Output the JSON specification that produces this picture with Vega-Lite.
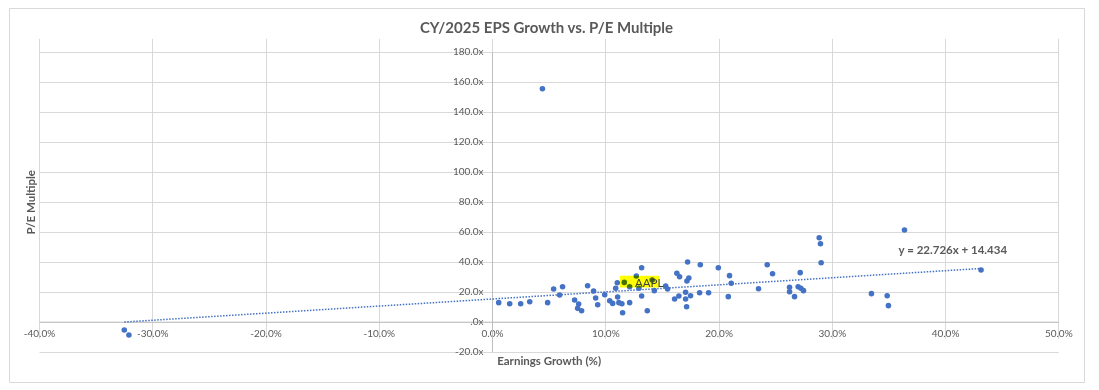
{
  "$schema": "https://vega.github.io/schema/vega-lite/v6.json",
  "width": 1075,
  "height": 374,
  "autosize": "none",
  "padding": {"left": 9, "top": 8, "right": 15, "bottom": 8},
  "background": "white",
  "config": {
    "view": {"stroke": "#d9d9d9", "strokeWidth": 1},
    "font": "Lato"
  },
  "title": {
    "text": "CY/2025 EPS Growth vs. P/E Multiple",
    "font": "Lato",
    "fontSize": 15,
    "fontWeight": "bold",
    "color": "#595959",
    "anchor": "middle",
    "frame": "group",
    "baseline": "alphabetic",
    "offset": -25.3,
    "dy": 14.3
  },
  "datasets": {
    "pts": [
      {"g": 0.0059, "pe": 12.7}, {"g": 0.0156, "pe": 12.0}, {"g": 0.0253, "pe": 12.0}, {"g": 0.0333, "pe": 13.3},
      {"g": 0.0491, "pe": 12.7}, {"g": 0.0544, "pe": 21.8}, {"g": 0.0597, "pe": 17.8}, {"g": 0.0623, "pe": 23.3},
      {"g": 0.0729, "pe": 14.5}, {"g": 0.0765, "pe": 11.8}, {"g": 0.0756, "pe": 8.9}, {"g": 0.0791, "pe": 7.3},
      {"g": 0.0844, "pe": 24.0}, {"g": 0.0897, "pe": 20.5}, {"g": 0.0915, "pe": 15.8}, {"g": 0.0933, "pe": 11.3},
      {"g": 0.0995, "pe": 18.0}, {"g": 0.1039, "pe": 14.0}, {"g": 0.1065, "pe": 12.2}, {"g": 0.1092, "pe": 22.3},
      {"g": 0.1106, "pe": 26.0}, {"g": 0.1109, "pe": 16.5}, {"g": 0.1120, "pe": 12.7}, {"g": 0.1147, "pe": 12.0},
      {"g": 0.1153, "pe": 6.0}, {"g": 0.1168, "pe": 26.2, "label": "AAPL"}, {"g": 0.1215, "pe": 23.3}, {"g": 0.1215, "pe": 12.7},
      {"g": 0.1274, "pe": 30.5}, {"g": 0.1297, "pe": 22.3}, {"g": 0.1321, "pe": 36.0}, {"g": 0.1321, "pe": 17.1},
      {"g": 0.1371, "pe": 7.3}, {"g": 0.1414, "pe": 27.8}, {"g": 0.1433, "pe": 20.7}, {"g": 0.1533, "pe": 23.8},
      {"g": 0.1550, "pe": 21.8}, {"g": 0.1612, "pe": 15.1}, {"g": 0.1632, "pe": 32.3}, {"g": 0.1650, "pe": 17.1},
      {"g": 0.1656, "pe": 30.0}, {"g": 0.1709, "pe": 19.6}, {"g": 0.1709, "pe": 15.1}, {"g": 0.1718, "pe": 10.0},
      {"g": 0.1721, "pe": 27.1}, {"g": 0.1727, "pe": 39.8}, {"g": 0.1738, "pe": 29.1}, {"g": 0.1753, "pe": 17.3},
      {"g": 0.1833, "pe": 19.3}, {"g": 0.1839, "pe": 38.0}, {"g": 0.1912, "pe": 19.3}, {"g": 0.1998, "pe": 36.0},
      {"g": 0.2086, "pe": 16.7}, {"g": 0.2097, "pe": 30.7}, {"g": 0.2112, "pe": 25.6}, {"g": 0.2353, "pe": 22.0},
      {"g": 0.2430, "pe": 38.0}, {"g": 0.2477, "pe": 32.0}, {"g": 0.2627, "pe": 22.9}, {"g": 0.2627, "pe": 20.0},
      {"g": 0.2671, "pe": 16.7}, {"g": 0.2703, "pe": 23.3}, {"g": 0.2721, "pe": 32.7}, {"g": 0.2727, "pe": 22.3},
      {"g": 0.2750, "pe": 20.7}, {"g": 0.2889, "pe": 56.0}, {"g": 0.2900, "pe": 52.0}, {"g": 0.2906, "pe": 39.3},
      {"g": 0.3350, "pe": 18.7}, {"g": 0.3489, "pe": 17.3}, {"g": 0.3500, "pe": 10.7}, {"g": 0.3642, "pe": 61.1},
      {"g": 0.4318, "pe": 34.5}, {"g": 0.0445, "pe": 155.3}, {"g": -0.3247, "pe": -5.5}, {"g": -0.3206, "pe": -8.9}
    ],
    "trend": [
      {"g": -0.3247, "pe": -0.2},
      {"g": 0.4318, "pe": 35.5}
    ],
    "eq": [
      {"g": 0.359, "pe": 45.1, "text": "y = 22.726x + 14.434"}
    ]
  },
  "encoding": {
    "x": {
      "field": "g",
      "type": "quantitative",
      "scale": {"domain": [-0.4, 0.5], "range": [30, 1049.3], "nice": false, "zero": false},
      "axis": {
        "orient": "bottom",
        "offset": -60.3,
        "values": [-0.4, -0.3, -0.2, -0.1, 0, 0.1, 0.2, 0.3, 0.4, 0.5],
        "labelExpr": "(datum.value < 0 ? '-' : '') + format(abs(datum.value), '.1%')",
        "ticks": false,
        "grid": true,
        "gridColor": "#d9d9d9",
        "gridWidth": 1,
        "domainColor": "#bfbfbf",
        "domainWidth": 1,
        "labelColor": "#595959",
        "labelFont": "Lato",
        "labelFontSize": 10,
        "labelPadding": 7,
        "labelFlush": false,
        "labelOverlap": false,
        "labelBound": false,
        "title": "Earnings Growth (%)",
        "titleFont": "Lato",
        "titleFontSize": 11.5,
        "titleFontWeight": "bold",
        "titleColor": "#595959",
        "titleBaseline": "middle",
        "titleY": 40,
        "zindex": 0
      }
    },
    "y": {
      "field": "pe",
      "type": "quantitative",
      "scale": {"domain": [-20, 180], "range": [343.7, 43.7], "nice": false, "zero": false},
      "axis": {
        "orient": "left",
        "offset": -483,
        "values": [-20, 0, 20, 40, 60, 80, 100, 120, 140, 160, 180],
        "labelExpr": "datum.value == 0 ? '.0x' : (datum.value < 0 ? '-' : '') + format(abs(datum.value), '.1f') + 'x'",
        "ticks": false,
        "grid": true,
        "gridColor": "#d9d9d9",
        "gridWidth": 1,
        "domainColor": "#bfbfbf",
        "domainWidth": 1,
        "labelColor": "#595959",
        "labelFont": "Lato",
        "labelFontSize": 10,
        "labelPadding": 9,
        "labelFlush": false,
        "labelOverlap": false,
        "labelBound": false,
        "title": "P/E Multiple",
        "titleFont": "Lato",
        "titleFontSize": 11.5,
        "titleFontWeight": "bold",
        "titleColor": "#595959",
        "titleAngle": 270,
        "titleBaseline": "middle",
        "titleX": -460.3,
        "zindex": 0
      }
    }
  },
  "layer": [
    {
      "data": {"name": "pts"},
      "mark": {"type": "point", "filled": true, "shape": "circle", "size": 31, "color": "#4472C4", "opacity": 1, "strokeWidth": 0}
    },
    {
      "data": {"name": "trend"},
      "mark": {"type": "line", "color": "#4472C4", "strokeWidth": 1.5, "strokeDash": [1.5, 1.5]}
    },
    {
      "data": {"name": "pts"},
      "transform": [{"filter": "datum.label != null"}],
      "mark": {"type": "point", "filled": true, "shape": "M -0.215 -0.33 L 1.735 -0.33 L 1.735 0.25 L -0.215 0.25 Z", "size": 1600, "color": "#FFFF00", "opacity": 1, "strokeWidth": 0, "blend": "multiply"}
    },
    {
      "data": {"name": "pts"},
      "transform": [{"filter": "datum.label != null"}],
      "mark": {"type": "text", "align": "left", "baseline": "alphabetic", "dx": 10.7, "dy": 4.4, "font": "Lato", "fontSize": 11.5, "color": "#404040"},
      "encoding": {"text": {"field": "label"}}
    },
    {
      "data": {"name": "eq"},
      "mark": {"type": "text", "align": "left", "baseline": "alphabetic", "font": "Lato", "fontSize": 11.5, "fontWeight": "bold", "color": "#595959"},
      "encoding": {"text": {"field": "text"}}
    }
  ]
}
